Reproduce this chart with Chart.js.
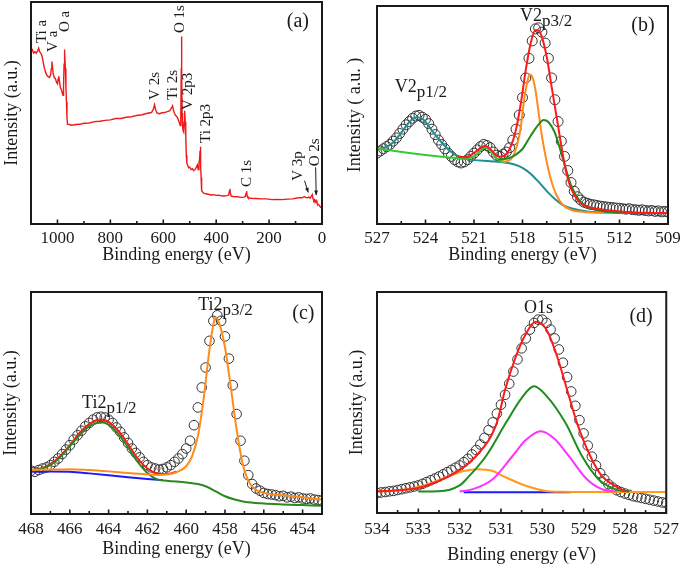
<!DOCTYPE html>
<html>
<head>
<meta charset="utf-8">
<title>XPS spectra</title>
<script src="https://cdn.jsdelivr.net/npm/chart.js@4.4.1/dist/chart.umd.min.js"></script>
<style>
  body { margin: 0; background: #fff; }
  canvas { position: absolute; }
</style>
</head>
<body>
<canvas id="surveyChart" width="340" height="266" style="left:0;top:0"></canvas>
<canvas id="vChart" width="345" height="266" style="left:340px;top:0"></canvas>
<canvas id="tiChart" width="340" height="275" style="left:0;top:285px"></canvas>
<canvas id="oChart" width="345" height="281" style="left:340px;top:285px"></canvas>
<script>
// ---- data: [binding energy (eV), intensity (a.u., 0-100 of the frame)] ----

// (a) survey spectrum
const surveyData = [[1100,79.5],[1095,78.5],[1090,77.0],[1085,77.6],[1080,77.0],[1075,78.0],[1071,79.2],[1067,77.5],
  [1062,76.8],[1058,75.5],[1054,73.0],[1050,70.5],[1045,68.5],[1040,67.0],[1035,66.4],[1030,66.0],[1026,67.2],
  [1023,70.0],[1021,73.2],[1019,71.0],[1016,67.5],[1012,66.0],[1008,65.6],[1004,64.0],[1000,63.2],[997,65.5],
  [995,66.6],[992,64.0],[989,61.5],[985,60.5],[982,59.0],[979,58.0],[977,62.0],[975,72.0],[974,78.6],[972,77.0],
  [970,70.0],[968,62.0],[966,55.0],[964,48.0],[962,45.0],[955,44.8],[945,44.5],[930,44.8],[915,44.9],[900,45.4],
  [880,45.5],[860,46.1],[840,46.3],[820,46.7],[800,46.9],[780,47.5],[760,47.5],[740,48.1],[720,48.3],[700,48.9],
  [680,49.2],[660,49.9],[645,50.2],[638,51.5],[633,53.7],[629,51.5],[624,50.0],[615,49.7],[605,50.1],[595,50.2],
  [585,50.6],[575,51.0],[568,52.5],[565,53.2],[562,51.5],[558,50.0],[554,49.0],[550,48.6],[546,47.8],[542,46.5],
  [539,45.5],[536,44.3],[534,45.0],[532,70.0],[531,84.5],[530,70.0],[529,50.0],[527,44.0],[525,42.0],[523,41.5],
  [521,46.0],[519,51.0],[517,46.0],[515,40.0],[513,31.0],[511,27.5],[508,26.5],[504,25.3],[500,25.6],[495,24.5],
  [490,24.9],[485,24.0],[480,24.6],[475,25.5],[471,26.6],[468,24.5],[465,27.5],[463,29.0],[461,33.0],[460,34.8],
  [459,33.0],[458,27.0],[457,21.0],[456,17.0],[454,15.0],[450,14.2],[445,13.8],[440,13.6],[430,13.4],[420,13.1],
  [410,13.2],[400,12.9],[390,13.0],[380,12.7],[370,12.6],[360,12.8],[353,13.0],[350,14.8],[348,15.8],[346,13.6],
  [343,12.6],[335,12.4],[320,12.3],[305,12.0],[295,12.1],[290,12.4],[287,13.8],[285,14.8],[283,12.6],[280,11.9],
  [270,11.6],[250,11.5],[230,11.3],[210,11.3],[190,11.0],[170,11.1],[150,11.0],[130,11.2],[110,11.3],[95,11.7],
  [85,11.9],[75,11.8],[67,12.4],[62,12.0],[55,11.8],[50,12.1],[45,11.6],[40,12.5],[37,13.2],[34,11.5],[31,10.5],
  [28,10.9],[25,10.0],[22,10.6],[19,9.5],[15,8.8],[12,8.6],[8,8.0],[4,7.5],[0,7.3]];
const surveyTicks = [1000, 800, 600, 400, 200, 0];
const surveyMinor = [900, 700, 500, 300, 100];

// (b) V 2p
const vMeasured = [[527.0,32.5],[526.8,33.5],[526.6,34.5],[526.4,35.5],[526.2,36.5],[526.0,38.0],[525.8,39.5],
  [525.6,41.5],[525.4,43.5],[525.2,45.5],[525.0,47.0],[524.8,48.5],[524.6,49.5],[524.4,49.8],[524.2,49.0],
  [524.0,48.0],[523.8,46.0],[523.6,43.5],[523.4,41.0],[523.2,38.5],[523.0,36.5],[522.8,34.5],[522.6,32.5],
  [522.4,31.0],[522.2,29.5],[522.0,28.5],[521.8,28.0],[521.6,28.5],[521.4,29.5],[521.2,31.0],[521.0,32.5],
  [520.8,34.0],[520.6,35.5],[520.4,36.5],[520.2,36.0],[520.0,35.0],[519.8,33.0],[519.6,31.5],[519.4,31.0],
  [519.2,32.0],[519.0,33.0],[518.8,35.0],[518.6,38.5],[518.4,43.5],[518.2,50.0],[518.0,58.0],[517.8,67.0],
  [517.6,76.0],[517.4,84.0],[517.2,89.5],[517.0,90.0],[516.8,88.0],[516.6,83.0],[516.4,76.0],[516.2,67.0],
  [516.0,57.0],[515.8,47.0],[515.6,38.0],[515.4,31.0],[515.2,24.5],[515.0,19.0],[514.8,15.0],[514.6,12.5],
  [514.4,11.0],[514.2,10.0],[514.0,9.5],[513.8,9.0],[513.6,8.8],[513.4,8.5],[513.2,8.2],[513.0,8.0],[512.8,7.8],
  [512.6,7.6],[512.4,7.5],[512.2,7.3],[512.0,7.2],[511.8,7.0],[511.6,6.8],[511.4,7.0],[511.2,6.6],[511.0,6.5],
  [510.8,6.3],[510.6,6.5],[510.4,6.2],[510.2,6.0],[510.0,6.2],[509.8,5.8],[509.6,6.0],[509.4,5.6],[509.2,5.8],[509.0,5.5]];
const vEnvelope = [[522,31.1],[521.5,30.6],[521,32.6],[520.6,34.8],[520.3,35.9],[520,34.4],[519.6,31.4],[519.3,30.9],
  [519,32.1],[518.7,35.9],[518.4,43.4],[518.1,55.5],[517.8,70.6],[517.5,82.7],[517.2,89.0],[517,88.7],[516.8,85.7],
  [516.5,76.6],[516.2,63.0],[515.9,49.5],[515.6,35.9],[515.3,23.8],[515,16.3],[514.5,10.3],[514,8.0],[513,6.5],
  [512,5.7],[511,5.3],[509,5.0]];
const vPeakA = [[519.3,28.7],[519,28.8],[518.7,29.9],[518.4,34.4],[518.1,44.9],[517.9,57.0],[517.7,65.3],[517.55,68.6],
  [517.4,67.6],[517.2,61.5],[517,51.0],[516.8,40.4],[516.5,28.4],[516.2,19.3],[515.9,13.3],[515.5,8.7],[515,6.5],
  [514.5,5.7],[514,5.4],[513,5.1]];
const vPeakB = [[519.5,29.6],[519,29.9],[518.5,31.4],[518,34.4],[517.5,40.4],[517,45.7],[516.7,47.7],[516.4,46.8],
  [516,41.9],[515.5,29.9],[515,17.8],[514.5,11.0],[514,8.0],[513,6.0],[512,5.4],[511,5.1],[510,5.0]];
const vPeakC = [[527,34.7],[526,33.6],[525,32.6],[524,31.7],[523,30.9],[522,30.2],[521.5,29.9],[521,31.1],[520.6,33.6],
  [520.3,35.1],[520,33.6],[519.6,30.2],[519.3,28.7],[519,28.4]];
const vPeak12 = [[527,34.4],[526.5,35.1],[526,37.4],[525.5,41.9],[525,46.8],[524.7,48.7],[524.5,49.0],[524.2,48.3],
  [524,46.8],[523.5,41.9],[523,37.4],[522.5,33.6],[522,31.1],[521.5,29.9],[521,29.3],[520,28.8],[519,28.1],
  [518.5,27.3],[518,25.8],[517.5,23.1],[517,19.3],[516.5,15.1],[516,11.5],[515.5,8.7],[515,7.2],[514,5.7],
  [513,5.3],[511,5.0],[509,5.0]];
const vTicks = [527, 524, 521, 518, 515, 512, 509];
const vMinor = [525.5, 522.5, 519.5, 516.5, 513.5, 510.5];

// (c) Ti 2p
const tiMeasured = [[468.0,19.5],[467.8,19.0],[467.6,19.8],[467.4,20.5],[467.2,21.0],[467.0,22.0],[466.8,23.5],
  [466.6,25.0],[466.4,27.0],[466.2,29.0],[466.0,31.0],[465.8,33.5],[465.6,35.5],[465.4,37.5],[465.2,39.5],
  [465.0,41.0],[464.8,42.5],[464.6,43.5],[464.4,43.8],[464.2,43.5],[464.0,42.5],[463.8,41.0],[463.6,39.0],
  [463.4,37.0],[463.2,34.5],[463.0,32.0],[462.8,29.5],[462.6,27.5],[462.4,25.5],[462.2,23.5],[462.0,22.0],
  [461.8,21.0],[461.6,20.5],[461.4,20.0],[461.2,20.3],[461.0,21.0],[460.8,22.0],[460.6,23.5],[460.4,25.0],
  [460.2,27.0],[460.0,29.5],[459.8,33.0],[459.6,40.0],[459.4,48.0],[459.2,57.0],[459.0,66.0],[458.8,78.0],
  [458.6,87.0],[458.4,89.5],[458.2,87.0],[458.0,80.0],[457.8,70.0],[457.6,58.0],[457.4,45.0],[457.2,33.0],
  [457.0,24.0],[456.8,17.5],[456.6,13.5],[456.4,11.5],[456.2,10.5],[456.0,9.5],[455.8,9.0],[455.6,8.8],
  [455.4,8.5],[455.2,8.0],[455.0,8.2],[454.8,7.5],[454.6,7.8],[454.4,7.2],[454.2,7.5],[454.0,7.0],[453.8,6.8],
  [453.6,7.0],[453.4,6.5],[453.2,6.3],[453.0,6.0]];
const tiEnvelope = [[468,19.8],[467.5,20.5],[467,22.5],[466.5,26],[466,31],[465.5,36.5],[465,40.5],[464.6,42.3],
  [464.3,42.5],[464,41.5],[463.5,37.5],[463,31.5],[462.5,25],[462,20.5],[461.5,18.3],[461,18],[460.5,19]];
const ti2p32 = [[468,19.8],[467,20.0],[466,20.2],[465,19.8],[464,19.2],[463,18.5],[462,17.8],[461.5,17.6],[461,17.8],
  [460.5,18.8],[460,21.5],[459.7,26],[459.4,35],[459.1,52],[458.8,74],[458.6,85.5],[458.5,88.5],[458.3,86],
  [458,75],[457.7,57],[457.4,38],[457.1,23],[456.8,15],[456.5,11.5],[456,9.5],[455,8.5],[454,7.5],[453,6.5]];
const ti2p12 = [[468,19.5],[467.5,20.3],[467,22],[466.5,25.5],[466,30.5],[465.5,35.5],[465,39.5],[464.6,41],
  [464.3,41.2],[464,40.2],[463.5,36],[463,30],[462.5,23.5],[462,18.5],[461.5,15.6],[461,15.0],[460,14.2],
  [459.4,13.5],[459,12.5],[458.5,10.3],[458,8.0],[457.5,6.5],[457,5.5],[456,4.7],[455,4.3],[454,4.0],[453,3.7]];
const tiBackground = [[468,19.0],[467,19.2],[466,19.0],[465,18.3],[464,17.5],[463,16.6],[462,15.8],[461.2,15.2]];
const tiTicks = [468, 466, 464, 462, 460, 458, 456, 454];
const tiMinor = [467, 465, 463, 461, 459, 457, 455];

// (d) O 1s
const oMeasured = [[534.0,9.0],[533.9,9.3],[533.8,9.5],[533.7,9.8],[533.6,10.0],[533.5,10.4],[533.4,10.8],[533.3,11.2],
  [533.2,11.6],[533.1,12.0],[533.0,12.5],[532.9,13.2],[532.8,14.0],[532.7,14.8],[532.6,15.6],[532.5,16.5],
  [532.4,17.5],[532.3,18.5],[532.2,19.5],[532.1,20.5],[532.0,21.5],[531.9,23.0],[531.8,24.5],[531.7,26.5],
  [531.6,28.5],[531.5,31.0],[531.4,34.0],[531.3,37.5],[531.2,41.0],[531.1,45.0],[531.0,49.0],[530.9,53.5],
  [530.8,58.5],[530.7,64.0],[530.6,69.5],[530.5,74.5],[530.4,79.0],[530.3,83.0],[530.2,86.0],[530.1,87.5],
  [530.0,87.5],[529.9,86.0],[529.8,83.0],[529.7,79.0],[529.6,74.0],[529.5,68.0],[529.4,61.5],[529.3,55.0],
  [529.2,48.5],[529.1,42.0],[529.0,36.0],[528.9,30.5],[528.8,25.5],[528.7,21.5],[528.6,18.0],[528.5,15.3],
  [528.4,13.0],[528.3,11.5],[528.2,10.3],[528.1,9.5],[528.0,8.8],[527.9,8.2],[527.8,7.6],[527.7,7.2],[527.6,6.8],
  [527.5,6.4],[527.4,6.0],[527.3,5.6],[527.2,5.2],[527.1,4.8],[527.0,4.5]];
const oEnvelope = [[534,9.8],[533.5,10.3],[533,11.3],[532.6,13.8],[532.1,18.3],[531.6,25.8],[531.1,40.8],[530.9,55.8],
  [530.64,70.8],[530.4,81],[530.16,86.5],[529.9,83],[529.64,70.8],[529.4,55.8],[529.16,40.8],[528.84,25.8],
  [528.56,16.8],[528.24,12.3],[528,10]];
const oLattice = [[533,9.7],[532.5,9.8],[532,12.5],[531.84,15.3],[531.36,25.8],[530.88,40.8],[530.5,52],[530.2,57.3],
  [529.9,53],[529.44,40.8],[529.04,25.8],[528.64,15.3],[528.24,10.8],[528,9.9],[527.9,9.7]];
const oSecond = [[532,9.7],[531.68,10.8],[531.2,15.3],[530.72,25.8],[530.4,33],[530.04,37],[529.7,33.5],[529.36,25.8],
  [528.92,15.3],[528.56,10.8],[528.2,9.8]];
const oHydroxyl = [[534,9.7],[533.5,10.2],[532.88,12.3],[532.24,16.8],[531.9,19],[531.56,19.8],[531.2,19],
  [530.96,16.8],[530.4,12.3],[529.92,10],[529.5,9.6],[529,9.5],[528,9.5],[527,9.5]];
const oBackground = [[531.9,9.4],[530.5,9.4],[529.3,9.4]];
const oTicks = [534, 533, 532, 531, 530, 529, 528, 527];
const oMinor = [533.5, 532.5, 531.5, 530.5, 529.5, 528.5, 527.5];

// ---- drawing helpers ----
const serif = "'Liberation Serif', 'Times New Roman', serif";
const ink = '#1a1a1a';
Chart.defaults.font.family = serif;
Chart.defaults.color = ink;
const pts = arr => arr.map(p => ({ x: p[0], y: p[1] }));

function fitLine(data, color) {
  return { data: pts(data), borderColor: color, borderWidth: 2, pointRadius: 0, fill: false,
           cubicInterpolationMode: 'monotone' };
}
function circles(data, r) {
  return { data: pts(data), showLine: false, pointRadius: r || 4.5, pointBorderWidth: 1,
           pointBorderColor: '#333', pointBackgroundColor: 'rgba(255,255,255,0)' };
}

// box around the plot plus inward tick marks
const framePlugin = {
  id: 'frame',
  afterDraw(chart, args, opts) {
    const { ctx, chartArea: a, scales: { x } } = chart;
    ctx.save();
    ctx.strokeStyle = ink;
    ctx.lineWidth = 2;
    ctx.strokeRect(a.left, a.top, a.right - a.left, a.bottom - a.top);
    ctx.lineWidth = 1.6;
    ctx.beginPath();
    x.ticks.forEach(t => {
      const px = x.getPixelForValue(t.value);
      ctx.moveTo(px, a.bottom); ctx.lineTo(px, a.bottom - 4.5);
    });
    (opts.minor || []).forEach(v => {
      const px = x.getPixelForValue(v);
      ctx.moveTo(px, a.bottom); ctx.lineTo(px, a.bottom - 3);
    });
    ctx.stroke();
    ctx.restore();
  }
};

// peak names, panel letters, arrows
const notesPlugin = {
  id: 'notes',
  afterDraw(chart, args, opts) {
    const { ctx, scales: { x, y } } = chart;
    (opts.items || []).forEach(n => {
      ctx.save();
      ctx.fillStyle = ink;
      ctx.strokeStyle = ink;
      if (n.arrow) {
        const [e1, v1, e2, v2] = n.arrow;
        const x1 = x.getPixelForValue(e1), y1 = y.getPixelForValue(v1);
        const x2 = x.getPixelForValue(e2), y2 = y.getPixelForValue(v2);
        const ang = Math.atan2(y2 - y1, x2 - x1);
        ctx.lineWidth = 1;
        ctx.beginPath(); ctx.moveTo(x1, y1); ctx.lineTo(x2, y2); ctx.stroke();
        ctx.beginPath();
        ctx.moveTo(x2, y2);
        ctx.lineTo(x2 - 5 * Math.cos(ang - 0.4), y2 - 5 * Math.sin(ang - 0.4));
        ctx.lineTo(x2 - 5 * Math.cos(ang + 0.4), y2 - 5 * Math.sin(ang + 0.4));
        ctx.closePath(); ctx.fill();
        ctx.restore();
        return;
      }
      const px = x.getPixelForValue(n.e), py = y.getPixelForValue(n.v);
      ctx.font = (n.size || 18) + 'px ' + serif;
      ctx.translate(px, py);
      if (n.rot) ctx.rotate(-Math.PI / 2);
      ctx.textAlign = n.align || 'left';
      ctx.textBaseline = n.baseline || 'alphabetic';
      ctx.fillText(n.text, 0, 0);
      if (n.sub) {
        const w = ctx.measureText(n.text).width;
        ctx.font = '17px ' + serif;
        ctx.fillText(n.sub, w, 5);
      }
      ctx.restore();
    });
  }
};

function panelOptions(p) {
  return {
    responsive: false,
    animation: false,
    devicePixelRatio: 1,
    layout: { padding: { left: 0, right: p.right, top: p.top, bottom: 0 } },
    plugins: {
      legend: { display: false },
      tooltip: { enabled: false },
      frame: { minor: p.minor },
      notes: { items: p.notes }
    },
    scales: {
      x: {
        type: 'linear', reverse: true, min: p.min, max: p.max,
        afterBuildTicks: s => { s.ticks = p.ticks.map(v => ({ value: v })); },
        afterFit: s => { s.height = p.xh; },
        grid: { display: false, drawTicks: false },
        border: { display: false },
        ticks: { font: { family: serif, size: 17 }, color: ink, padding: p.tickPad,
                 maxRotation: 0, autoSkip: false, callback: v => String(v) },
        title: { display: true, text: 'Binding energy (eV)', font: { family: serif, size: 18 },
                 color: ink, padding: { top: 0, bottom: 0 } }
      },
      y: {
        type: 'linear', min: 0, max: 100,
        afterFit: s => { s.width = p.yw; },
        ticks: { display: false },
        grid: { display: false, drawTicks: false },
        border: { display: false },
        title: { display: true, text: p.ytitle, font: { family: serif, size: 18 },
                 color: ink, padding: { top: p.ytPad, bottom: 0 } }
      }
    }
  };
}

// (a) survey
new Chart(document.getElementById('surveyChart'), {
  type: 'line',
  data: { datasets: [{ data: pts(surveyData), borderColor: '#f01818', borderWidth: 1.4, pointRadius: 0, tension: 0 }] },
  options: panelOptions({
    min: 0, max: 1100, ticks: surveyTicks, minor: surveyMinor,
    right: 18, top: 2, xh: 42, yw: 31, tickPad: 4, ytPad: 1, ytitle: 'Intensity (a.u.)',
    notes: [
      { text: '(a)', e: 91, v: 91, size: 20, align: 'center', baseline: 'middle' },
      { text: 'Ti a', e: 1060, v: 81.5, size: 15, rot: true, baseline: 'middle' },
      { text: 'V a', e: 1016, v: 77.5, size: 15, rot: true, baseline: 'middle' },
      { text: 'O a', e: 972, v: 86.5, size: 15, rot: true, baseline: 'middle' },
      { text: 'O 1s', e: 537, v: 86, size: 15, rot: true, baseline: 'middle' },
      { text: 'V 2s', e: 631, v: 55.9, size: 15, rot: true, baseline: 'middle' },
      { text: 'Ti 2s', e: 564, v: 55.9, size: 15, rot: true, baseline: 'middle' },
      { text: 'V 2p3', e: 508, v: 51.4, size: 15, rot: true, baseline: 'middle' },
      { text: 'Ti 2p3', e: 439, v: 36.5, size: 15, rot: true, baseline: 'middle' },
      { text: 'C 1s', e: 285, v: 16.7, size: 15, rot: true, baseline: 'middle' },
      { text: 'V 3p', e: 92, v: 19.5, size: 15, rot: true, baseline: 'middle' },
      { text: 'O 2s', e: 26, v: 26, size: 15, rot: true, baseline: 'middle' },
      { arrow: [66, 19.5, 52, 14.2] },
      { arrow: [24, 25.5, 22, 13.0] }
    ]
  }),
  plugins: [framePlugin, notesPlugin]
});

// (b) V 2p
new Chart(document.getElementById('vChart'), {
  type: 'line',
  data: { datasets: [
    fitLine(vEnvelope, '#ff1a1a'),
    fitLine(vPeakB, '#1e8c1e'),
    fitLine(vPeakA, '#ff8c1a'),
    fitLine(vPeakC, '#33cc33'),
    fitLine(vPeak12, '#1f8f8f'),
    circles(vMeasured, 5)
  ] },
  options: panelOptions({
    min: 509, max: 527, ticks: vTicks, minor: vMinor,
    right: 17, top: 2, xh: 42, yw: 37, tickPad: 4, ytPad: 4, ytitle: 'Intensity ( a.u. )',
    notes: [
      { text: '(b)', e: 510.55, v: 91, size: 20, align: 'center', baseline: 'middle' },
      { text: 'V2', sub: 'p3/2', e: 518.16, v: 93.2 },
      { text: 'V2', sub: 'p1/2', e: 525.9, v: 60.4 }
    ]
  }),
  plugins: [framePlugin, notesPlugin]
});

// (c) Ti 2p
new Chart(document.getElementById('tiChart'), {
  type: 'line',
  data: { datasets: [
    fitLine(ti2p32, '#ff8c1a'),
    fitLine(ti2p12, '#2a8a1e'),
    fitLine(tiEnvelope, '#ff1a1a'),
    fitLine(tiBackground, '#1a1aff'),
    circles(tiMeasured, 4.8)
  ] },
  options: panelOptions({
    min: 453, max: 468, ticks: tiTicks, minor: tiMinor,
    right: 18, top: 7, xh: 46, yw: 31, tickPad: 5, ytPad: 0, ytitle: 'Intensity (a.u.)',
    notes: [
      { text: '(c)', e: 453.96, v: 90, size: 20, align: 'center', baseline: 'middle' },
      { text: 'Ti2', sub: 'p3/2', e: 459.38, v: 91.9 },
      { text: 'Ti2', sub: 'p1/2', e: 465.37, v: 47.7 }
    ]
  }),
  plugins: [framePlugin, notesPlugin]
});

// (d) O 1s
new Chart(document.getElementById('oChart'), {
  type: 'line',
  data: { datasets: [
    fitLine(oEnvelope, '#ff1a1a'),
    fitLine(oLattice, '#1e8c1e'),
    fitLine(oSecond, '#ff33ff'),
    fitLine(oHydroxyl, '#ff9a1a'),
    fitLine(oBackground, '#1a1aff'),
    circles(oMeasured, 4.8)
  ] },
  options: panelOptions({
    min: 527, max: 534, ticks: oTicks, minor: oMinor,
    right: 17, top: 7, xh: 53, yw: 37, tickPad: 6, ytPad: 6, ytitle: 'Intensity (a.u.)',
    notes: [
      { text: '(d)', e: 527.61, v: 89, size: 20, align: 'center', baseline: 'middle' },
      { text: 'O1s', e: 530.44, v: 90.5 }
    ]
  }),
  plugins: [framePlugin, notesPlugin]
});
</script>
</body>
</html>
